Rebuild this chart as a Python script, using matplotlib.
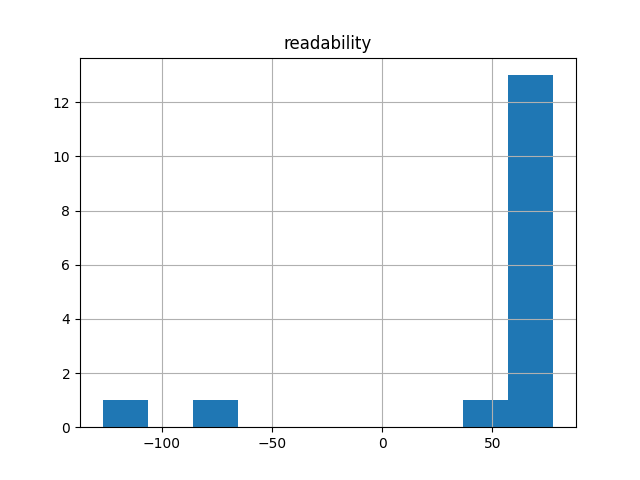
import matplotlib
matplotlib.use('Agg')
import matplotlib.pyplot as plt
from matplotlib.ticker import MultipleLocator
import pandas as pd

# readability scores (10 bins between min and max)
readability = [-126.8, -76.0, 45.0,
               62.0, 64.0, 65.5, 67.0, 68.0, 69.5, 70.0,
               71.0, 72.5, 73.0, 74.0, 75.5, 77.7]

df = pd.DataFrame({'readability': readability})

fig, ax = plt.subplots(figsize=(6.4, 4.8), dpi=100)
df.hist(column='readability', bins=10, ax=ax)
ax.xaxis.set_major_locator(MultipleLocator(50))

plt.savefig('out.png', dpi=100)
